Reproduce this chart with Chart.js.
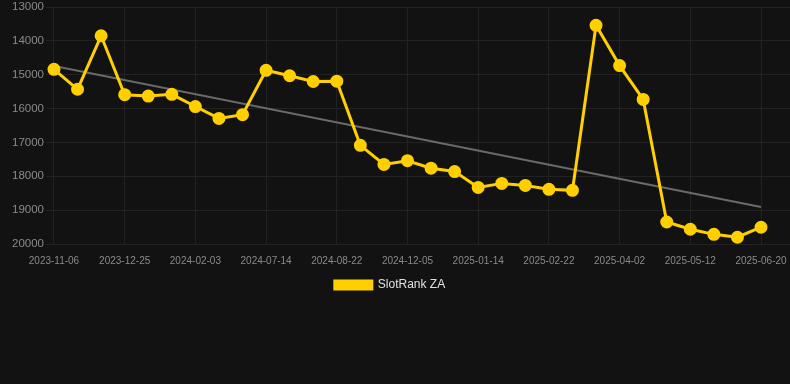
<!DOCTYPE html>
<html>
<head>
<meta charset="utf-8">
<script src="https://cdn.jsdelivr.net/npm/chart.js@4/dist/chart.umd.min.js"></script>
<style>
  html, body { margin: 0; padding: 0; background: #121212; }
  #wrap { position: relative; width: 790px; height: 301px; }
</style>
</head>
<body>
<div id="wrap"><canvas id="c"></canvas></div>
<script>
const categories = [
  "2023-11-06","2023-11-22","2023-12-09","2023-12-25","2024-01-07","2024-01-20",
  "2024-02-03","2024-03-20","2024-05-30","2024-07-14","2024-07-27","2024-08-09",
  "2024-08-22","2024-09-30","2024-11-05","2024-12-05","2024-12-18","2024-12-31",
  "2025-01-14","2025-01-27","2025-02-09","2025-02-22","2025-03-07","2025-03-20",
  "2025-04-02","2025-04-15","2025-04-28","2025-05-12","2025-05-25","2025-06-07",
  "2025-06-20"
];
const rankValues = [
  14840, 15430, 13850, 15590, 15630, 15580, 15940, 16290, 16180, 14870,
  15030, 15200, 15190, 17085, 17650, 17540, 17760, 17860, 18330, 18210,
  18270, 18385, 18415, 13540, 14730, 15730, 19350, 19565, 19715, 19800,
  19505
];
const trendStart = 14740;
const trendEnd = 18910;
const yTicks = [13000, 14000, 15000, 16000, 17000, 18000, 19000, 20000];
const shownTickLabels = ["2023-11-06","2023-12-25","2024-02-03","2024-07-14","2024-08-22",
  "2024-12-05","2025-01-14","2025-02-22","2025-04-02","2025-05-12","2025-06-20"];

const rankPoints = rankValues.map((v, i) => ({ x: i, y: v }));
const trendPoints = [
  { x: 0, y: trendStart },
  { x: categories.length - 1, y: trendEnd }
];

const legendShift = {
  id: 'legendShift',
  afterLayout(chart) {
    if (chart.legend) { chart.legend.left -= 10; chart.legend.right -= 10; }
  }
};

new Chart(document.getElementById('c'), {
  type: 'line',
  data: {
    datasets: [
      {
        label: 'SlotRank ZA',
        data: rankPoints,
        borderColor: '#ffcf00',
        backgroundColor: '#ffcf00',
        borderWidth: 3,
        pointRadius: 5,
        pointHoverRadius: 5,
        pointBackgroundColor: '#ffcf00',
        pointBorderColor: '#ffcf00',
        tension: 0,
        clip: false,
        order: 1
      },
      {
        label: 'Trend',
        data: trendPoints,
        borderColor: '#6a6a6a',
        backgroundColor: '#6a6a6a',
        borderWidth: 2,
        pointRadius: 0,
        tension: 0,
        order: 2
      }
    ]
  },
  plugins: [legendShift],
  options: {
    responsive: true,
    maintainAspectRatio: false,
    animation: false,
    layout: { autoPadding: false, padding: { left: 10, right: 0, top: 0, bottom: 0 } },
    plugins: {
      tooltip: { enabled: false },
      legend: {
        position: 'bottom',
        labels: {
          color: '#e0e0e0',
          font: { family: 'Liberation Sans, Arial, sans-serif', size: 12 },
          boxWidth: 37,
          boxHeight: 8,
          padding: 10,
          filter: (item) => item.text === 'SlotRank ZA'
        }
      }
    },
    scales: {
      x: {
        type: 'linear',
        min: 0,
        max: 31.23,
        afterFit: (axis) => { axis.paddingRight = 0; axis.paddingLeft = 0; axis.height = 25; },
        grid: { color: '#222222', drawTicks: false },
        border: { color: '#222222' },
        ticks: {
          color: '#8a8a8a',
          font: { family: 'Liberation Sans, Arial, sans-serif', size: 10 },
          stepSize: 1,
          autoSkip: false,
          maxRotation: 0,
          minRotation: 0,
          padding: 11,
          callback: (value) => {
            if (!Number.isInteger(value) || value < 0 || value >= categories.length) return null;
            const l = categories[value];
            return shownTickLabels.includes(l) ? l : null;
          }
        }
      },
      y: {
        reverse: true,
        min: 13000,
        max: 20000,
        afterBuildTicks: (axis) => { axis.ticks = yTicks.map(v => ({ value: v })); },
        afterFit: (axis) => { axis.paddingTop = 7; },
        grid: { color: '#222222', tickLength: 8 },
        border: { color: '#222222' },
        ticks: {
          color: '#8a8a8a',
          font: { family: 'Liberation Sans, Arial, sans-serif', size: 11.5 },
          padding: 2,
          callback: (v) => String(v)
        }
      }
    }
  }
});
</script>
</body>
</html>
